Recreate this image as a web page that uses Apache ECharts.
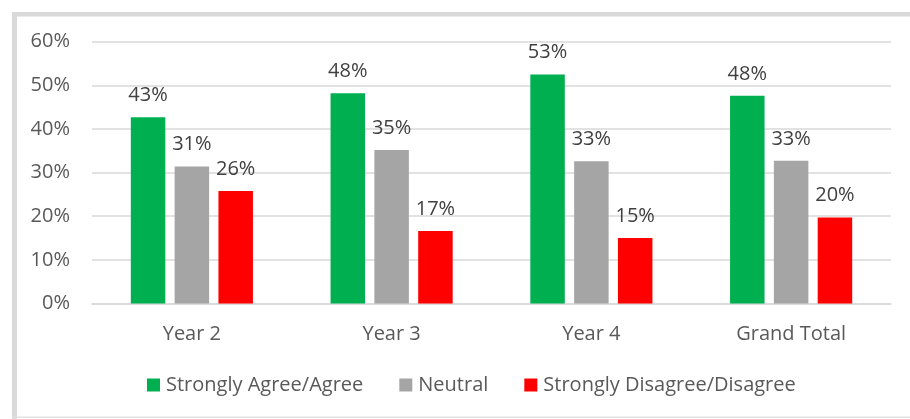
<!DOCTYPE html>
<html>
<head>
<meta charset="utf-8">
<script src="https://cdn.jsdelivr.net/npm/echarts@6/dist/echarts.min.js"></script>
<style>
  html, body { margin: 0; padding: 0; background: #fff; }
  #chart { width: 910px; height: 419px; }
</style>
</head>
<body>
<div id="chart"></div>
<script>
// Survey responses by year group (share of respondents)
const categories = ['Year 2', 'Year 3', 'Year 4', 'Grand Total'];
const seriesNames = ['Strongly Agree/Agree', 'Neutral', 'Strongly Disagree/Disagree'];
const agreeValues = [0.427, 0.482, 0.525, 0.476];
const neutralValues = [0.314, 0.352, 0.326, 0.327];
const disagreeValues = [0.258, 0.166, 0.150, 0.197];
const yTicks = { min: 0, max: 0.6, interval: 0.1 };

const colors = ['#00B050', '#A5A5A5', '#FF0000'];
const axisTextColor = '#595959';
const labelTextColor = '#404040';
const fontFamily = '"Open Sans", "Noto Sans", sans-serif';
const fontSize = 20;

const pct = v => Math.round(v * 100) + '%';

function barSeries(name, data, color) {
  return {
    name: name,
    type: 'bar',
    data: data,
    barWidth: 34.5,
    barGap: '27%',
    itemStyle: { color: color },
    label: {
      show: true,
      position: 'top',
      distance: 12,
      color: labelTextColor,
      fontFamily: fontFamily,
      fontSize: fontSize,
      formatter: p => pct(p.value)
    },
    emphasis: { disabled: true }
  };
}

const chart = echarts.init(document.getElementById('chart'), null, { renderer: 'canvas' });
chart.setOption({
  animation: false,
  backgroundColor: '#ffffff',
  textStyle: { fontFamily: fontFamily },
  graphic: [
    { type: 'rect', shape: { x: 12, y: 12, width: 898, height: 4.5 }, style: { fill: '#d9d9d9' }, silent: true },
    { type: 'rect', shape: { x: 12, y: 12, width: 5, height: 407 }, style: { fill: '#d9d9d9' }, silent: true },
    { type: 'rect', shape: { x: 12, y: 416.5, width: 898, height: 1.5 }, style: { fill: '#e2e2e2' }, silent: true }
  ],
  grid: { left: 92, right: 19, top: 41.7, bottom: 115.5, containLabel: false },
  legend: {
    data: seriesNames,
    left: 147,
    top: 375,
    padding: 0,
    itemWidth: 13,
    itemHeight: 13,
    itemGap: 36,
    icon: 'rect',
    textStyle: { color: axisTextColor, fontSize: fontSize, fontFamily: fontFamily, padding: [0, 0, 0, 1] },
    selectedMode: false
  },
  xAxis: {
    type: 'category',
    data: categories,
    axisLine: { show: true, lineStyle: { color: '#d9d9d9', width: 1.5 } },
    axisTick: { show: false },
    axisLabel: { color: axisTextColor, fontSize: fontSize, fontFamily: fontFamily, margin: 21 }
  },
  yAxis: {
    type: 'value',
    min: yTicks.min,
    max: yTicks.max,
    interval: yTicks.interval,
    axisLine: { show: false },
    axisTick: { show: false },
    splitLine: { lineStyle: { color: '#d9d9d9', width: 1.5 } },
    axisLabel: {
      color: axisTextColor,
      fontSize: fontSize,
      fontFamily: fontFamily,
      margin: 22,
      formatter: v => Math.round(v * 100) + '%'
    }
  },
  series: [
    barSeries(seriesNames[0], agreeValues, colors[0]),
    barSeries(seriesNames[1], neutralValues, colors[1]),
    barSeries(seriesNames[2], disagreeValues, colors[2])
  ]
});
</script>
</body>
</html>
